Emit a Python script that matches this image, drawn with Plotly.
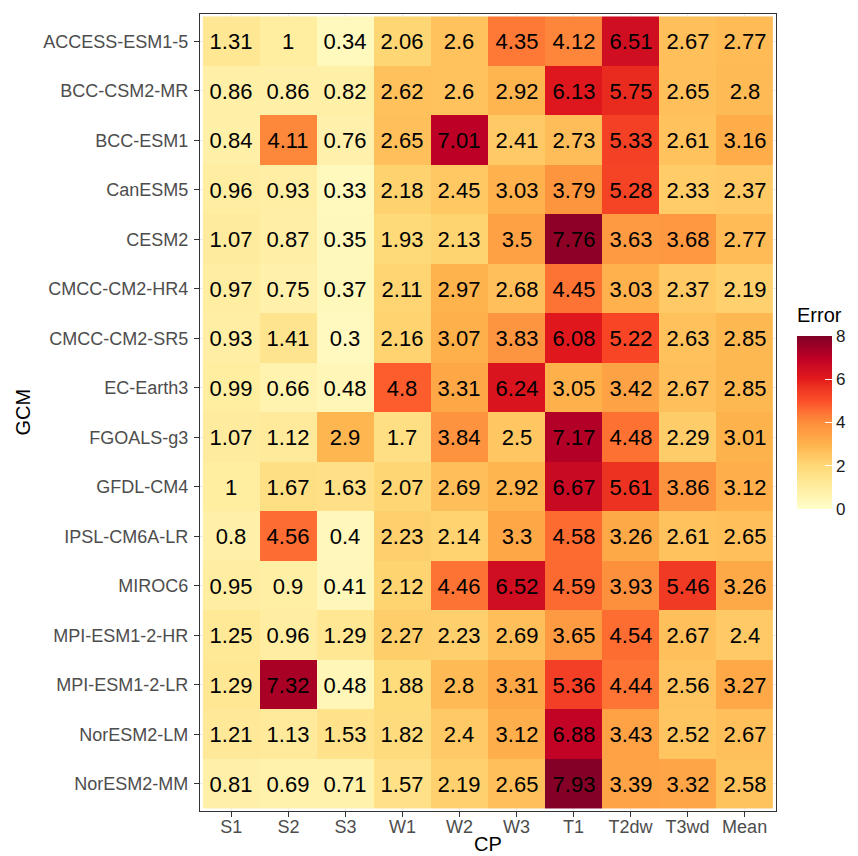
import plotly.graph_objects as go

gcms = ["ACCESS-ESM1-5", "BCC-CSM2-MR", "BCC-ESM1", "CanESM5", "CESM2",
        "CMCC-CM2-HR4", "CMCC-CM2-SR5", "EC-Earth3", "FGOALS-g3", "GFDL-CM4",
        "IPSL-CM6A-LR", "MIROC6", "MPI-ESM1-2-HR", "MPI-ESM1-2-LR",
        "NorESM2-LM", "NorESM2-MM"]
cps = ["S1", "S2", "S3", "W1", "W2", "W3", "T1", "T2dw", "T3wd", "Mean"]

errors = [
    [1.31, 1, 0.34, 2.06, 2.6, 4.35, 4.12, 6.51, 2.67, 2.77],
    [0.86, 0.86, 0.82, 2.62, 2.6, 2.92, 6.13, 5.75, 2.65, 2.8],
    [0.84, 4.11, 0.76, 2.65, 7.01, 2.41, 2.73, 5.33, 2.61, 3.16],
    [0.96, 0.93, 0.33, 2.18, 2.45, 3.03, 3.79, 5.28, 2.33, 2.37],
    [1.07, 0.87, 0.35, 1.93, 2.13, 3.5, 7.76, 3.63, 3.68, 2.77],
    [0.97, 0.75, 0.37, 2.11, 2.97, 2.68, 4.45, 3.03, 2.37, 2.19],
    [0.93, 1.41, 0.3, 2.16, 3.07, 3.83, 6.08, 5.22, 2.63, 2.85],
    [0.99, 0.66, 0.48, 4.8, 3.31, 6.24, 3.05, 3.42, 2.67, 2.85],
    [1.07, 1.12, 2.9, 1.7, 3.84, 2.5, 7.17, 4.48, 2.29, 3.01],
    [1, 1.67, 1.63, 2.07, 2.69, 2.92, 6.67, 5.61, 3.86, 3.12],
    [0.8, 4.56, 0.4, 2.23, 2.14, 3.3, 4.58, 3.26, 2.61, 2.65],
    [0.95, 0.9, 0.41, 2.12, 4.46, 6.52, 4.59, 3.93, 5.46, 3.26],
    [1.25, 0.96, 1.29, 2.27, 2.23, 2.69, 3.65, 4.54, 2.67, 2.4],
    [1.29, 7.32, 0.48, 1.88, 2.8, 3.31, 5.36, 4.44, 2.56, 3.27],
    [1.21, 1.13, 1.53, 1.82, 2.4, 3.12, 6.88, 3.43, 2.52, 2.67],
    [0.81, 0.69, 0.71, 1.57, 2.19, 2.65, 7.93, 3.39, 3.32, 2.58],
]
cbar_ticks = [0, 2, 4, 6, 8]

ylorrd = ["#ffffcc", "#ffeda0", "#fed976", "#feb24c", "#fd8d3c",
          "#fc4e2a", "#e31a1c", "#bd0026", "#800026"]


# --- interpolate palette in CIE Lab space (like ggplot's gradient_n_pal) ---
def _hex2rgb(h):
    h = h.lstrip("#")
    return [int(h[i:i + 2], 16) / 255 for i in (0, 2, 4)]


def _lin(c):
    return c / 12.92 if c <= 0.04045 else ((c + 0.055) / 1.055) ** 2.4


def _delin(c):
    c = max(0.0, min(1.0, c))
    return 12.92 * c if c <= 0.0031308 else 1.055 * c ** (1 / 2.4) - 0.055


_WN = (0.95047, 1.0, 1.08883)


def _rgb2lab(rgb):
    r, g, b = [_lin(c) for c in rgb]
    x = 0.4124 * r + 0.3576 * g + 0.1805 * b
    y = 0.2126 * r + 0.7152 * g + 0.0722 * b
    z = 0.0193 * r + 0.1192 * g + 0.9505 * b

    def f(t):
        return t ** (1 / 3) if t > 0.008856 else 7.787 * t + 16 / 116
    fx, fy, fz = f(x / _WN[0]), f(y / _WN[1]), f(z / _WN[2])
    return [116 * fy - 16, 500 * (fx - fy), 200 * (fy - fz)]


def _lab2rgb(lab):
    L, a, bb = lab
    fy = (L + 16) / 116
    fx = fy + a / 500
    fz = fy - bb / 200

    def fi(t):
        return t ** 3 if t ** 3 > 0.008856 else (t - 16 / 116) / 7.787
    x, y, z = fi(fx) * _WN[0], fi(fy) * _WN[1], fi(fz) * _WN[2]
    r = 3.2406 * x - 1.5372 * y - 0.4986 * z
    g = -0.9689 * x + 1.8758 * y + 0.0415 * z
    b = 0.0557 * x - 0.2040 * y + 1.0570 * z
    return [_delin(c) for c in (r, g, b)]


labs = [_rgb2lab(_hex2rgb(c)) for c in ylorrd]
n_seg = len(labs) - 1
colorscale = []
N = 64
for i in range(N + 1):
    t = i / N
    pos = t * n_seg
    k = min(int(pos), n_seg - 1)
    f = pos - k
    lab = [labs[k][j] + (labs[k + 1][j] - labs[k][j]) * f for j in range(3)]
    r, g, b = _lab2rgb(lab)
    colorscale.append([t, "rgb(%d,%d,%d)" % (round(r * 255), round(g * 255), round(b * 255))])

text = [[("%g" % v) for v in row] for row in errors]

FONT = "Liberation Sans, Arial, Helvetica, sans-serif"
W, H = 858, 856
L_, R_, T_, B_ = 192, 90, 6, 53          # margins (px)
PW, PH = W - L_ - R_, H - T_ - B_        # plot-area size (px)


def px_x(x):
    return (x - L_) / PW


def px_y(y):
    return (H - B_ - y) / PH


fig = go.Figure(go.Heatmap(
    z=errors, x=cps, y=gcms, text=text, texttemplate="%{text}",
    textfont=dict(family=FONT, size=22, color="black"),
    colorscale=colorscale, zmin=0, zmax=8, xgap=0, ygap=0,
    hoverinfo="skip",
    colorbar=dict(
        tickvals=cbar_ticks, ticks="inside", tickcolor="white", ticklen=7,
        tickwidth=1,
        tickfont=dict(family=FONT, size=17, color="#1a1a1a"),
        thickness=35, thicknessmode="pixels",
        lenmode="pixels", len=173,
        x=px_x(789), xanchor="left", xpad=0,
        y=px_y(501), yanchor="bottom", ypad=0,
        outlinewidth=0, borderwidth=0,
    ),
))

axis_common = dict(
    showline=True, mirror=True, linecolor="#333333", linewidth=1.3,
    ticks="outside", ticklen=5, tickcolor="#333333", tickwidth=1.3,
    showgrid=True, gridcolor="#ebebeb", zeroline=False,
    tickfont=dict(family=FONT, size=18, color="#4d4d4d"),
)
fig.update_xaxes(**axis_common, range=[-0.55, 9.55], type="category",
                 ticklabelstandoff=-6)
fig.update_yaxes(**axis_common, range=[15.55, -0.55], type="category",
                 ticklabelstandoff=2)

fig.add_annotation(text="CP", xref="paper", yref="paper",
                   x=0.5, y=px_y(836),
                   xanchor="center", yanchor="middle", showarrow=False,
                   font=dict(family=FONT, size=20, color="black"))
fig.add_annotation(text="GCM", xref="paper", yref="paper",
                   x=px_x(14), y=0.5, textangle=-90,
                   xanchor="center", yanchor="middle", showarrow=False,
                   font=dict(family=FONT, size=20, color="black"))
fig.add_annotation(text="Error", xref="paper", yref="paper",
                   x=px_x(787), y=px_y(307),
                   xanchor="left", yanchor="middle", showarrow=False,
                   font=dict(family=FONT, size=20, color="black"))

fig.update_layout(
    width=W, height=H,
    margin=dict(l=L_, r=R_, t=T_, b=B_, autoexpand=False),
    paper_bgcolor="white", plot_bgcolor="white",
)
fig.write_html("out.html")
